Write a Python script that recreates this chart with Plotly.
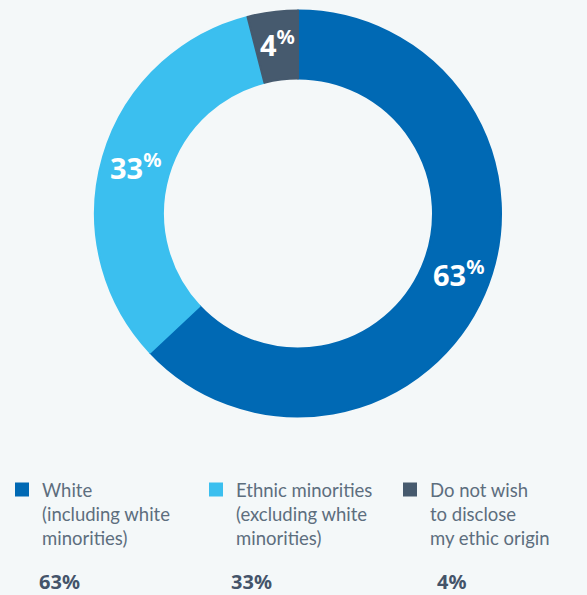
import math
import plotly.graph_objects as go

categories = ["White", "Ethnic minorities", "Do not wish to disclose"]
legend_labels = [
    "White<br>(including white<br>minorities)",
    "Ethnic minorities<br>(excluding white<br>minorities)",
    "Do not wish<br>to disclose<br>my ethic origin",
]
values = [63, 33, 4]
colors = ["#0069b4", "#3bbfef", "#465a6e"]

W, H = 587, 595
bg = "#f4f8f9"
label_font = "Noto Sans, Open Sans, sans-serif"
legend_font = "Lato, Noto Sans, sans-serif"

# pie geometry (pixels)
cx, cy, R = 298, 213.5, 203
hole = 0.665
# small per-label nudges (pixels) for the slice labels
label_nudge = [(3, -9), (3, 0), (1, 0)]

fig = go.Figure()
fig.add_trace(go.Pie(
    labels=legend_labels,
    values=values,
    hole=hole,
    sort=False,
    direction="clockwise",
    rotation=0,
    marker=dict(colors=colors, line=dict(width=2, color=colors)),
    textinfo="none",
    domain=dict(x=[(cx - R) / W, (cx + R) / W], y=[1 - (cy + R) / H, 1 - (cy - R) / H]),
    hoverinfo="skip",
    showlegend=True,
))

# slice labels placed on each slice's bisector, derived from the values
annotations = []
total = sum(values)
cum = 0
r_lab = R * (1 + hole) / 2 + 3
for i, v in enumerate(values):
    mid = (cum + v / 2) / total * 2 * math.pi
    cum += v
    px = cx + r_lab * math.sin(mid) + label_nudge[i][0]
    py = cy - r_lab * math.cos(mid) + label_nudge[i][1]
    annotations.append(dict(
        x=px / W, y=1 - py / H, xref="paper", yref="paper",
        xanchor="center", yanchor="middle", showarrow=False,
        text=f"<b>{v}<sup>%</sup></b>",
        font=dict(family=label_font, size=29, color="white"),
    ))

legend_x = [37, 229, 435]
for i, v in enumerate(values):
    annotations.append(dict(
        x=legend_x[i] / W, y=1 - 581 / H, xref="paper", yref="paper",
        xanchor="left", yanchor="middle", showarrow=False,
        text=f"<b>{v}%</b>",
        font=dict(family=label_font, size=20, color="#44546a"),
    ))

fig.update_layout(
    width=W, height=H,
    margin=dict(l=0, r=0, t=0, b=0, autoexpand=False),
    paper_bgcolor=bg, plot_bgcolor=bg,
    showlegend=True,
    legend=dict(
        orientation="h", x=2 / W, y=1 - 471 / H, xanchor="left", yanchor="top",
        entrywidth=149, entrywidthmode="pixels", valign="top",
        font=dict(family=legend_font, size=18.5, color="#5d6e7e"),
        bgcolor="rgba(0,0,0,0)", traceorder="normal",
    ),
    annotations=annotations,
)

fig.write_html(
    "out.html",
    config={"displayModeBar": False},
    post_script="document.body.style.margin='0';document.body.style.overflow='hidden';",
)
